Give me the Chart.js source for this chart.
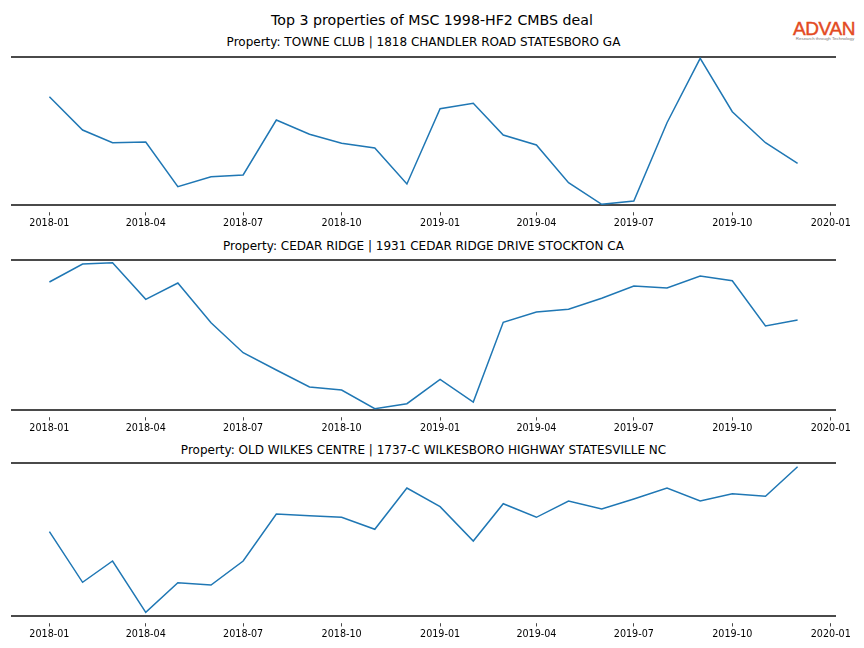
<!DOCTYPE html>
<html><head><meta charset="utf-8">
<script src="https://cdn.jsdelivr.net/npm/chart.js@4.4.1/dist/chart.umd.min.js"></script>
<style>
body{margin:0;background:#fff;}
#wrap{position:relative;width:864px;height:648px;overflow:hidden;font-family:"DejaVu Sans",sans-serif;background:#fff;}
.t{position:absolute;text-align:center;color:#000;white-space:nowrap;}
canvas{position:absolute;left:0;}
#logo{position:absolute;left:793px;top:19.5px;font-family:"Liberation Sans",Arial,sans-serif;font-size:19px;line-height:18px;color:#e34a22;letter-spacing:-0.4px;-webkit-text-stroke:0.45px #e34a22;}
#tag{position:absolute;left:792px;top:36px;width:66px;text-align:center;font-family:"Liberation Sans",Arial,sans-serif;font-size:4.4px;line-height:5px;color:#777;white-space:nowrap;}
</style></head><body>
<div id="wrap">
  <div class="t" style="left:0;width:864px;top:12.5px;font-size:14.2px;line-height:14px">Top 3 properties of MSC 1998-HF2 CMBS deal</div>
  <div id="logo">ADVAN</div>
  <div id="tag">Research through Technology</div>
  <div class="t" id="s1" style="left:12px;width:823px;top:36px;font-size:12px;line-height:12px"></div>
  <div class="t" id="s2" style="left:12px;width:823px;top:240px;font-size:12px;line-height:12px"></div>
  <div class="t" id="s3" style="left:12px;width:823px;top:444px;font-size:12px;line-height:12px"></div>
  <canvas id="c1"></canvas>
  <canvas id="c2"></canvas>
  <canvas id="c3"></canvas>
</div>
<script>
// ---- data ----
const months = ['2018-01','2018-02','2018-03','2018-04','2018-05','2018-06','2018-07','2018-08','2018-09','2018-10','2018-11','2018-12',
                '2019-01','2019-02','2019-03','2019-04','2019-05','2019-06','2019-07','2019-08','2019-09','2019-10','2019-11','2019-12'];
const tickLabels = ['2018-01','2018-04','2018-07','2018-10','2019-01','2019-04','2019-07','2019-10','2020-01'];
const propertyNames = [
  'Property: TOWNE CLUB | 1818 CHANDLER ROAD STATESBORO GA',
  'Property: CEDAR RIDGE | 1931 CEDAR RIDGE DRIVE STOCKTON CA',
  'Property: OLD WILKES CENTRE | 1737-C WILKESBORO HIGHWAY STATESVILLE NC'
];
const towneClub = [108.3, 75, 62.3, 63, 18.3, 28.3, 30, 85, 70.7, 61.7, 57, 21,
                   96.3, 101.7, 70, 60, 22.3, 0.7, 4, 82.3, 146.7, 93.3, 62.3, 41.7];
const cedarRidge = [128, 146, 147.3, 110.7, 127, 87.3, 57.3, 40, 23, 20, 1.3, 6.3,
                    30.7, 8, 87.7, 98, 100.7, 111.7, 124, 122, 134, 129.3, 84, 90];
const oldWilkes = [84.3, 33.7, 55, 3.7, 33.3, 31, 55, 102, 100.3, 98.7, 86.7, 128,
                   109.3, 75, 112.3, 98.7, 115, 107, 117, 128, 115, 122.3, 119.7, 149.3];
const seriesList = [towneClub, cedarRidge, oldWilkes];
const yMaxList = [148, 150, 153];

// ---- helpers ----
function toDay(s){ const p = s.split('-'); return Date.UTC(+p[0], +p[1]-1, 1) / 864e5; }
const xs = months.map(toDay);
const span = xs[xs.length-1] - xs[0];
const xMin = xs[0] - 0.05*span, xMax = xs[xs.length-1] + 0.05*span;
const tickDays = tickLabels.map(toDay);

const panelTops = [57, 260, 463];
const SPINE = '#4a4a4a';
const PADTOP = 7, AXISH = 30;

seriesList.forEach((vals, k) => {
  document.getElementById('s'+(k+1)).textContent = propertyNames[k];
  const h = yMaxList[k];
  const cv = document.getElementById('c'+(k+1));
  cv.width = 864; cv.height = h + PADTOP + AXISH;
  cv.style.top = (panelTops[k] - PADTOP) + 'px';
  new Chart(cv.getContext('2d'), {
    type: 'line',
    data: { datasets: [{
      data: xs.map((x,i) => ({x: x, y: vals[i]})),
      borderColor: '#1f77b4', borderWidth: 1.5, pointRadius: 0, tension: 0, fill: false
    }]},
    options: {
      responsive: false, animation: false, devicePixelRatio: 1,
      layout: { padding: { top: PADTOP, left: 12, right: 29, bottom: 0 }, autoPadding: false },
      plugins: { legend: { display: false }, tooltip: { enabled: false }, title: { display: false } },
      scales: {
        x: {
          type: 'linear', position: 'bottom', min: xMin, max: xMax,
          afterBuildTicks: s => { s.ticks = tickDays.map(v => ({value: v})); },
          afterFit: s => { s.height = AXISH; s.paddingLeft = 0; s.paddingRight = 0; },
          ticks: { autoSkip: false, maxRotation: 0, padding: 2, color: '#000',
                   font: { family: 'DejaVu Sans', size: 9.6 },
                   callback: (v, i) => tickLabels[i] },
          grid: { display: true, drawOnChartArea: false, drawTicks: true, tickLength: 10.5,
                  tickColor: '#333', tickWidth: 0.9, tickBorderDash: [3.5, 6.2], tickBorderDashOffset: 3.5 },
          border: { display: true, color: SPINE, width: 2 }
        },
        x2: {
          type: 'linear', position: 'top', min: 0, max: 1,
          afterFit: s => { s.height = 0; },
          ticks: { display: false },
          grid: { display: false },
          border: { display: true, color: SPINE, width: 2 }
        },
        y: { display: false, min: 0, max: h }
      }
    }
  });
});
</script>
</body></html>
